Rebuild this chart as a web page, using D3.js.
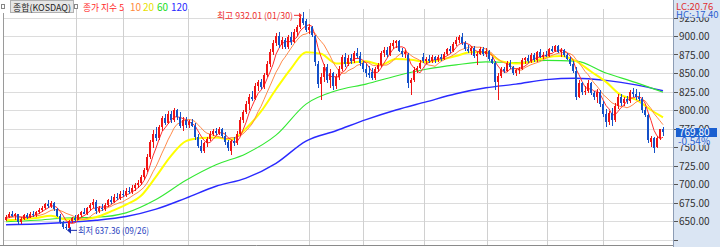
<!DOCTYPE html>
<html>
<head>
<meta charset="utf-8">
<script src="https://cdn.jsdelivr.net/npm/d3@7"></script>
<style>
html, body { margin: 0; padding: 0; background: #fff; }
svg { display: block; }
</style>
</head>
<body>
<div id="chart"></div>
<script>
/* data: KOSDAQ daily candles */
var priorCloses = [648, 650, 653, 651, 655, 657, 654, 652, 655];

var opens = [652,656,660,657,659,648,653,658,655,660, 658,662,665,668,673,670,675,666,657,648,
  642,641,650,654,652,658,662,660,667,671, 676,663,668,666,672,678,676,683,681,687,
  685,691,689,695,698,702,709,719,737,757, 768,762,777,789,783,795,786,800,790,779,
  787,780,784,779,764,752,745,755,761,768, 772,769,774,765,757,745,758,755,768,787,
  797,808,818,815,832,838,831,847,862,878, 890,900,888,895,885,898,892,906,912,925,
  920,908,912,900,862,835,845,858,840,850, 832,845,856,872,862,870,866,877,873,863,
  856,850,852,843,855,861,877,881,875,887, 891,893,880,876,875,836,840,854,857,872,
  866,869,866,871,867,872,869,876,882,880, 889,895,898,890,883,880,884,873,876,882,
  876,880,869,864,838,846,855,853,864,858, 850,854,856,867,870,866,874,867,878,872,
  875,873,882,880,886,879,881,874,869,862, 853,818,836,824,826,836,823,818,825,808,
  795,784,796,786,806,818,810,815,812,824, 821,818,815,800,793,757,762,750,762,774];

var highs = [658,662,664,661,660,655,660,661,662,664, 664,667,670,675,678,677,676,668,659,650,
  646,652,656,658,660,664,668,669,675,680, 678,670,673,675,680,684,686,688,690,692,
  694,696,698,701,705,712,722,740,760,773, 777,780,792,794,798,799,803,802,797,790,
  791,787,788,783,768,760,757,764,771,775, 776,777,776,770,760,760,764,772,790,800,
  812,822,826,836,841,842,850,866,882,895, 904,905,898,897,902,905,910,915,928,932.01,
  923,916,914,902,866,850,862,862,855,852, 848,860,875,877,874,876,880,884,878,866,
  862,860,857,858,864,880,885,885,890,894, 895,894,884,881,877,843,858,860,868,877,
  872,874,874,873,875,876,878,884,887,892, 898,902,904,893,888,886,886,878,885,885,
  884,881,872,866,850,858,858,866,868,860, 856,858,870,872,875,877,877,880,882,878,
  880,884,887,888,888,884,883,877,872,866, 858,840,838,832,840,838,826,828,827,812,
  801,799,803,809,822,822,818,819,827,830, 828,825,818,804,795,765,764,765,775,777];

var lows = [650,654,655,652,645,646,651,653,654,656, 656,659,662,666,668,667,664,655,646,639,
  637.36,640,647,650,651,655,659,658,664,668, 660,661,664,664,669,673,674,679,679,682,
  683,687,687,691,694,699,706,716,734,748, 758,760,772,780,781,782,784,787,776,772,
  776,776,777,760,748,742,742,750,758,765, 766,766,762,753,744,739,752,753,765,783,
  794,800,812,813,826,828,829,845,858,874, 886,884,883,882,883,888,890,900,910,915,
  906,903,898,860,830,814,838,836,830,827, 828,840,853,858,860,862,864,870,860,852,
  845,843,840,841,851,858,871,872,873,882, 884,878,872,870,830,820,838,850,855,863,
  862,864,863,864,865,866,867,874,877,878, 886,890,888,880,877,875,870,861,874,873,
  872,866,862,827,813,843,850,851,856,847, 846,849,854,862,863,864,865,865,870,869,
  871,871,878,878,877,872,872,867,860,850, 813,816,820,820,823,820,814,810,804,790,
  777,780,778,784,802,806,806,808,810,818, 814,812,796,790,755,750,742,748,760,765];

var closes = [656,660,657,659,648,653,658,655,660,658, 662,665,668,673,670,675,666,657,648,642,
  640,650,654,652,658,662,660,667,671,676, 663,668,666,672,678,676,683,681,687,685,
  691,689,695,698,702,709,719,737,757,768, 762,777,789,783,795,786,800,790,779,787,
  780,784,779,764,752,745,755,761,768,772, 769,774,765,757,748,758,755,768,787,797,
  808,818,815,832,838,831,847,862,878,890, 900,888,895,885,898,892,906,912,925,918,
  908,912,902,865,835,845,858,840,850,832, 845,856,872,862,870,866,877,873,863,856,
  850,847,843,855,861,877,881,875,887,891, 893,880,876,878,836,840,854,857,864,866,
  869,866,871,867,872,869,876,882,880,889, 895,898,890,883,880,884,873,876,882,876,
  880,869,864,838,846,855,853,864,858,850, 854,856,867,870,866,874,867,878,872,875,
  873,882,880,886,879,881,874,869,862,853, 818,836,824,826,836,823,818,825,808,795,
  784,796,786,806,818,810,815,812,824,821, 818,815,800,793,760,762,748,762,774,769.8];

/* longer moving averages (trading-day index, value) */
var ma20Days = [0,5,10,15,20,25,30,35,40,45,50,55,60,65,70,75,80,85,90,95,100,105,110,115,120,
  125,130,135,140,145,150,155,160,165,170,175,180,185,190,195,200,205,210,215,219];
var ma20Vals = [651,652,654,657,652,652,655,663,672,684,710,738,758,762,763,760,775,798,828,856,878,876,863,864,866,
  861,869,868,865,868,873,878,878,866,863,865,871,873,866,852,838,820,814,800,790];
var ma60Days = [0,10,20,30,40,50,60,70,80,90,100,110,120,130,140,150,160,170,180,190,200,210,219];
var ma60Vals = [649,651,654,655,661,679,705,726,741,766,808,826,835,846,855,861,865,864,867,866,850,837,824];
var ma120Days = ma60Days;
var ma120Vals = [645,646,648,651,656,666,681,697,708,728,758,772,787,800,811,822,830,835,841,843,840,834,826];

var monthLines = [23.3, 38.9, 60.7, 101, 118.9, 139.3, 160.3, 180.3, 199];
var priceTicks = [625, 650, 675, 700, 725, 750, 775, 800, 825, 850, 875, 900, 925];

var lastClose = 769.8, changePct = "-0.54%";
var lcText = "LC:20.76", hcText = "HC:-17.40";
var highPoint = {day: 99, price: 932.01, label: "최고 932.01 (01/30)"};
var lowPoint = {day: 20, price: 637.36, label: "최저 637.36 (09/26)"};

var legendItems = [
  {text: "종가 지수 5", color: "#ff2a2a", x: 83, w: 41},
  {text: "10", color: "#ff8a3a", x: 130, w: 0},
  {text: "20", color: "#e8e000", x: 143, w: 0},
  {text: "60", color: "#22dd22", x: 157, w: 0},
  {text: "120", color: "#2a2aff", x: 171, w: 0}
];

/* layout */
var W = 720, H = 247;
var plotLeft = 4, plotRight = 673, plotBottom = 245;
var PANEL = "#dae5f3";
var FONT = "'Liberation Sans Narrow','Noto Sans CJK KR',sans-serif";
var KFONT = "'Noto Sans CJK KR','Liberation Sans Narrow',sans-serif";

var svg = d3.select("#chart").append("svg")
  .attr("width", W).attr("height", H)
  .style("font-family", FONT);

var x = d3.scaleLinear().domain([0, closes.length - 1]).range([6, 663]);
var y = d3.scaleLinear().domain([625, 925]).range([239.5, 17.5]);
var px = function(v){ return Math.round(v) + 0.5; };

// grid
svg.append("g").selectAll("line").data(priceTicks).enter().append("line")
  .attr("x1", plotLeft).attr("x2", plotRight)
  .attr("y1", function(d){ return px(y(d)); }).attr("y2", function(d){ return px(y(d)); })
  .attr("stroke", "#dcdcdc");
svg.append("g").selectAll("line").data(monthLines).enter().append("line")
  .attr("x1", function(d){ return px(x(d)); }).attr("x2", function(d){ return px(x(d)); })
  .attr("y1", 9).attr("y2", plotBottom)
  .attr("stroke", "#d0d0d0");

// frame
svg.append("line").attr("x1", 3.5).attr("x2", 3.5).attr("y1", 13).attr("y2", plotBottom).attr("stroke", "#9a9a9a");
svg.append("line").attr("x1", 0).attr("x2", plotRight).attr("y1", plotBottom + 0.5).attr("y2", plotBottom + 0.5).attr("stroke", "#8a8a8a");

// moving averages
function movingAvg(n){
  var all = priorCloses.concat(closes), off = priorCloses.length, out = [];
  closes.forEach(function(c, i){
    var s = 0;
    for (var k = 0; k < n; k++) s += all[off + i - k];
    out.push([i, s / n]);
  });
  return out;
}
var line = d3.line().x(function(d){ return x(d[0]); }).y(function(d){ return y(d[1]); });
var smooth = d3.line().curve(d3.curveMonotoneX).x(function(d){ return x(d[0]); }).y(function(d){ return y(d[1]); });
var zip = function(a, b){ return a.map(function(d, i){ return [d, b[i]]; }); };

svg.append("path").attr("d", smooth(zip(ma120Days, ma120Vals))).attr("fill", "none").attr("stroke", "#2a2aff").attr("stroke-width", 1.4);
svg.append("path").attr("d", smooth(zip(ma60Days, ma60Vals))).attr("fill", "none").attr("stroke", "#33e833").attr("stroke-width", 1.1);
svg.append("path").attr("d", smooth(zip(ma20Days, ma20Vals))).attr("fill", "none").attr("stroke", "#ffff00").attr("stroke-width", 2);
svg.append("path").attr("d", line(movingAvg(10))).attr("fill", "none").attr("stroke", "#ff8a4a").attr("stroke-width", 1);
svg.append("path").attr("d", line(movingAvg(5))).attr("fill", "none").attr("stroke", "#ff3030").attr("stroke-width", 1);

// candles
var candles = closes.map(function(c, i){ return {i: i, o: opens[i], h: highs[i], l: lows[i], c: c}; });
var colorOf = function(d){ return d.c >= d.o ? "#f01414" : "#1450c8"; };
var cg = svg.append("g").attr("shape-rendering", "crispEdges");
cg.selectAll("line").data(candles).enter().append("line")
  .attr("x1", function(d){ return px(x(d.i)); }).attr("x2", function(d){ return px(x(d.i)); })
  .attr("y1", function(d){ return y(d.h); }).attr("y2", function(d){ return y(d.l); })
  .attr("stroke", colorOf);
cg.selectAll("rect").data(candles).enter().append("rect")
  .attr("x", function(d){ return Math.round(x(d.i)) - 1; })
  .attr("width", 2)
  .attr("y", function(d){ return y(Math.max(d.o, d.c)); })
  .attr("height", function(d){ return Math.max(1, Math.abs(y(d.o) - y(d.c))); })
  .attr("fill", colorOf);

// high / low annotations
var hx = x(highPoint.day), hy = y(highPoint.price) + 3;
svg.append("text").attr("x", hx - 86).attr("y", hy + 3.5)
  .attr("font-family", KFONT).attr("font-size", 9)
  .attr("textLength", 76).attr("lengthAdjust", "spacingAndGlyphs")
  .attr("fill", "#ee3030").text(highPoint.label);
svg.append("line").attr("x1", hx - 9).attr("x2", hx - 2).attr("y1", hy).attr("y2", hy).attr("stroke", "#ee3030");
svg.append("path").attr("d", "M" + (hx - 1) + "," + hy + "l-3,-2.5v5z").attr("fill", "#ee3030");

var lx = x(lowPoint.day), ly = y(lowPoint.price);
svg.append("path").attr("d", "M" + (lx + 1) + "," + ly + "l4,-3.5v7z").attr("fill", "#1a2fb0");
svg.append("line").attr("x1", lx + 4).attr("x2", lx + 11).attr("y1", ly).attr("y2", ly).attr("stroke", "#1a2fb0");
svg.append("text").attr("x", lx + 12).attr("y", ly + 3.5)
  .attr("font-family", KFONT).attr("font-size", 9)
  .attr("textLength", 71).attr("lengthAdjust", "spacingAndGlyphs")
  .attr("fill", "#2a3fc0").text(lowPoint.label);

// legend
function box(x0, y0){
  svg.append("rect").attr("x", x0 + 0.5).attr("y", y0 + 0.5).attr("width", 3).attr("height", 4)
    .attr("fill", "#fff").attr("stroke", "#888");
}
box(1, 4); box(74, 4);
svg.append("rect").attr("x", 10.5).attr("y", 0.5).attr("width", 63).attr("height", 12)
  .attr("fill", "#e6e6e6").attr("stroke", "#b0b0b0");
svg.append("text").attr("x", 13).attr("y", 10.5)
  .attr("font-family", KFONT).attr("font-size", 9)
  .attr("textLength", 58).attr("lengthAdjust", "spacingAndGlyphs")
  .attr("fill", "#222").text("종합(KOSDAQ)");
svg.selectAll("text.leg").data(legendItems).enter().append("text").attr("class", "leg")
  .attr("x", function(d){ return d.x; }).attr("y", 10.5)
  .attr("font-family", function(d){ return d.w ? KFONT : FONT; })
  .attr("font-size", function(d){ return d.w ? 9 : 10; })
  .attr("textLength", function(d){ return d.w || null; })
  .attr("lengthAdjust", "spacingAndGlyphs")
  .attr("fill", function(d){ return d.color; }).text(function(d){ return d.text; });

// right price axis
var ax = svg.append("g");
ax.append("rect").attr("x", plotRight).attr("y", 0).attr("width", W - plotRight).attr("height", H).attr("fill", PANEL);
ax.append("line").attr("x1", plotRight + 0.5).attr("x2", plotRight + 0.5).attr("y1", 0).attr("y2", H).attr("stroke", "#8c9cb4");
ax.selectAll("line.tk").data(priceTicks).enter().append("line").attr("class", "tk")
  .attr("x1", plotRight + 1).attr("x2", plotRight + 5)
  .attr("y1", function(d){ return px(y(d)); }).attr("y2", function(d){ return px(y(d)); })
  .attr("stroke", "#555");

// the top label sits under the LC/HC header, only its lower edge shows
svg.append("clipPath").attr("id", "axclip").append("rect")
  .attr("x", plotRight).attr("y", 17.5).attr("width", W - plotRight).attr("height", H - 17.5);
ax.append("g").attr("clip-path", "url(#axclip)")
  .selectAll("text").data(priceTicks.filter(function(d){ return d > 625; })).enter().append("text")
  .attr("x", plotRight + 6).attr("y", function(d){ return y(d) + 4; })
  .attr("font-size", 10).attr("fill", "#333").text(function(d){ return d3.format(".2f")(d); });

ax.append("text").attr("x", plotRight + 3).attr("y", 10).attr("font-size", 9.5).attr("fill", "#e03030").text(lcText);
ax.append("text").attr("x", plotRight + 3).attr("y", 17.5).attr("font-size", 9.5).attr("fill", "#2a5fd0").text(hcText);

// last price
var yl = Math.round(y(lastClose));
ax.append("rect").attr("x", plotRight + 3).attr("y", yl - 4).attr("width", 41).attr("height", 9).attr("fill", "#1a5fd0");
ax.append("text").attr("x", plotRight + 6).attr("y", yl + 4).attr("font-size", 10).attr("fill", "#fff").text(d3.format(".2f")(lastClose));
ax.append("rect").attr("x", plotRight + 4).attr("y", yl + 5).attr("width", 30).attr("height", 8).attr("fill", PANEL);
ax.append("text").attr("x", plotRight + 5).attr("y", yl + 12.5).attr("font-size", 10).attr("fill", "#2a5fd0").text(changePct);
</script>
</body>
</html>
